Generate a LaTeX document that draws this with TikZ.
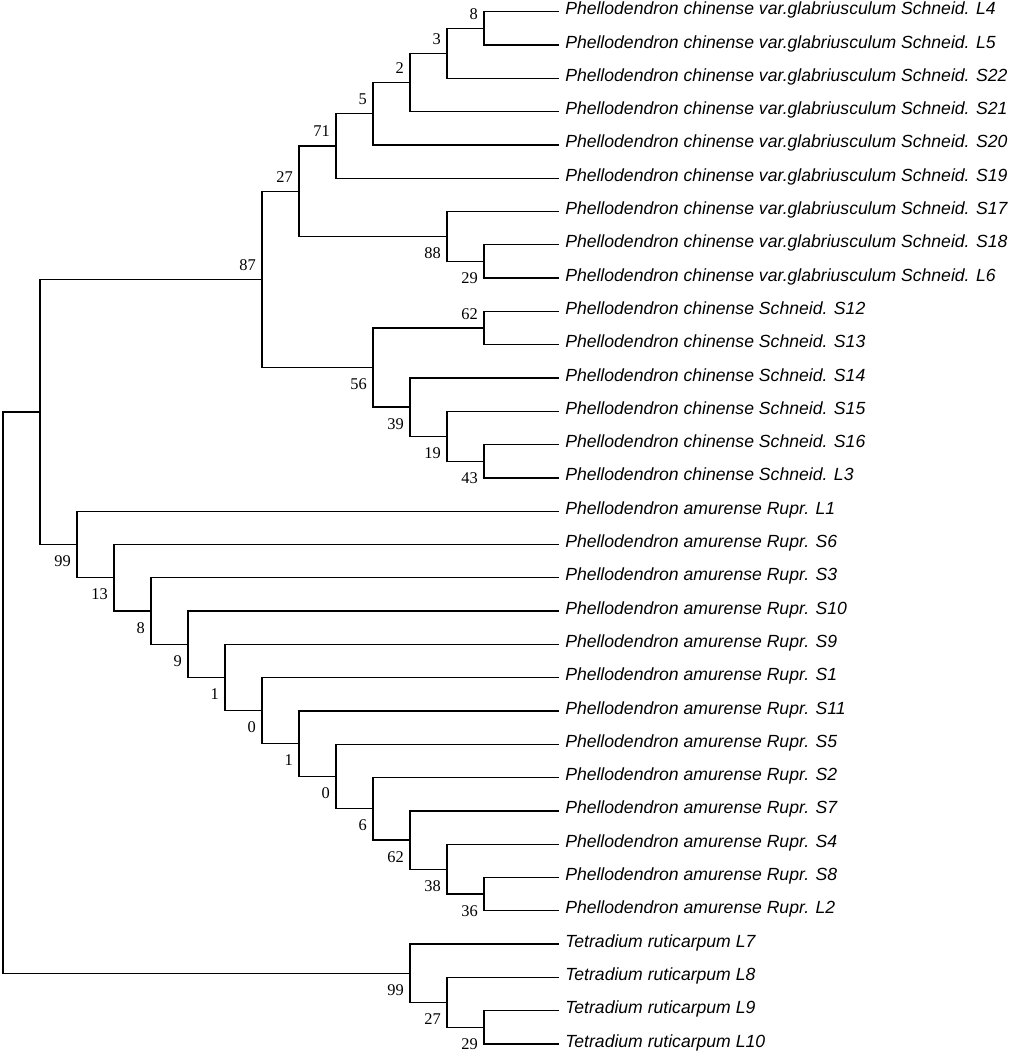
\documentclass[tikz,border=0pt]{standalone}
\usepackage{fontspec}
\setmainfont{Liberation Serif}
\newfontfamily\labfont{Liberation Sans}
\usetikzlibrary{calc}
\begin{document}
\begin{tikzpicture}[x=0.75pt,y=-0.75pt,
  br/.style={line width=1pt, black, line cap=rect},
  leaf/.style={anchor=mid west, inner sep=0pt, font=\labfont\itshape\fontsize{13.2}{15}\selectfont},
  bsup/.style={anchor=base east, inner sep=0pt, font=\fontsize{12.3}{14}\selectfont},
]
\useasboundingbox (0,0) rectangle (1021,1055);
% leaves
\foreach \i/\nm/\txt in {
 0/L4/Phellodendron chinense var.glabriusculum Schneid. L4,
 1/L5/Phellodendron chinense var.glabriusculum Schneid. L5,
 2/S22/Phellodendron chinense var.glabriusculum Schneid. S22,
 3/S21/Phellodendron chinense var.glabriusculum Schneid. S21,
 4/S20/Phellodendron chinense var.glabriusculum Schneid. S20,
 5/S19/Phellodendron chinense var.glabriusculum Schneid. S19,
 6/S17/Phellodendron chinense var.glabriusculum Schneid. S17,
 7/S18/Phellodendron chinense var.glabriusculum Schneid. S18,
 8/L6/Phellodendron chinense var.glabriusculum Schneid. L6,
 9/S12/Phellodendron chinense Schneid. S12,
 10/S13/Phellodendron chinense Schneid. S13,
 11/S14/Phellodendron chinense Schneid. S14,
 12/S15/Phellodendron chinense Schneid. S15,
 13/S16/Phellodendron chinense Schneid. S16,
 14/L3/Phellodendron chinense Schneid. L3,
 15/L1/Phellodendron amurense Rupr. L1,
 16/S6/Phellodendron amurense Rupr. S6,
 17/S3/Phellodendron amurense Rupr. S3,
 18/S10/Phellodendron amurense Rupr. S10,
 19/S9/Phellodendron amurense Rupr. S9,
 20/S1/Phellodendron amurense Rupr. S1,
 21/S11/Phellodendron amurense Rupr. S11,
 22/S5/Phellodendron amurense Rupr. S5,
 23/S2/Phellodendron amurense Rupr. S2,
 24/S7/Phellodendron amurense Rupr. S7,
 25/S4/Phellodendron amurense Rupr. S4,
 26/S8/Phellodendron amurense Rupr. S8,
 27/L2/Phellodendron amurense Rupr. L2,
 28/L7/Tetradium ruticarpum L7,
 29/L8/Tetradium ruticarpum L8,
 30/L9/Tetradium ruticarpum L9,
 31/L10/Tetradium ruticarpum L10}{
 \coordinate (l\nm) at (558,{11.7+33.3*\i});
 \node[leaf] (t\nm) at (565,{11.7+33.3*\i}) {\txt};
}
% internal nodes
\coordinate (n8)   at (484,28.35);
\coordinate (n3)   at (447,53.33);
\coordinate (n2)   at (410,82.46);
\coordinate (n5)   at (373,113.68);
\coordinate (n71)  at (336,145.94);
\coordinate (n29a) at (484,261.45);
\coordinate (n88)  at (447,236.48);
\coordinate (n27a) at (299,191.21);
\coordinate (n62a) at (484,328.05);
\coordinate (n43)  at (484,461.25);
\coordinate (n19)  at (447,436.28);
\coordinate (n39)  at (410,407.14);
\coordinate (n56)  at (373,367.6);
\coordinate (n87)  at (262,279.4);
\coordinate (n36)  at (484,894.15);
\coordinate (n38)  at (447,869.18);
\coordinate (n62b) at (410,840.04);
\coordinate (n6)   at (373,808.82);
\coordinate (n0b)  at (336,776.56);
\coordinate (n1b)  at (299,743.78);
\coordinate (n0a)  at (262,710.74);
\coordinate (n1a)  at (225,677.57);
\coordinate (n9)   at (188,644.34);
\coordinate (n8b)  at (151,611.07);
\coordinate (n13)  at (114,577.79);
\coordinate (n99a) at (77,544.5);
\coordinate (nA)   at (40,411.95);
\coordinate (n29b) at (484,1027.35);
\coordinate (n27b) at (447,1002.38);
\coordinate (n99b) at (410,973.24);
\coordinate (root) at (3,692.6);
% branches
\foreach \p/\c in {
 n8/lL4, n8/lL5, n3/n8, n3/lS22, n2/n3, n2/lS21, n5/n2, n5/lS20,
 n71/n5, n71/lS19, n29a/lS18, n29a/lL6, n88/lS17, n88/n29a,
 n27a/n71, n27a/n88, n62a/lS12, n62a/lS13, n43/lS16, n43/lL3,
 n19/lS15, n19/n43, n39/lS14, n39/n19, n56/n62a, n56/n39,
 n87/n27a, n87/n56, n36/lS8, n36/lL2, n38/lS4, n38/n36,
 n62b/lS7, n62b/n38, n6/lS2, n6/n62b, n0b/lS5, n0b/n6,
 n1b/lS11, n1b/n0b, n0a/lS1, n0a/n1b, n1a/lS9, n1a/n0a,
 n9/lS10, n9/n1a, n8b/lS3, n8b/n9, n13/lS6, n13/n8b,
 n99a/lL1, n99a/n13, nA/n87, nA/n99a, n29b/lL9, n29b/lL10,
 n27b/lL8, n27b/n29b, n99b/lL7, n99b/n27b, root/nA, root/n99b}{
 \draw[br] (\p) |- (\c);
}
% bootstrap values above the branch
\foreach \n/\v in {n8/8, n3/3, n2/2, n5/5, n71/71, n27a/27, n87/87, n62a/62}{
 \node[bsup] (b\n) at ($(\n)+(-6,-9)$) {\v};
}
% bootstrap values below the branch
\foreach \n/\v in {n88/88, n29a/29, n56/56, n39/39, n19/19, n43/43,
 n99a/99, n13/13, n8b/8, n9/9, n1a/1, n0a/0, n1b/1, n0b/0, n6/6,
 n62b/62, n38/38, n36/36, n99b/99, n27b/27, n29b/29}{
 \node[bsup] (b\n) at ($(\n)+(-6,22)$) {\v};
}
\end{tikzpicture}
\end{document}
